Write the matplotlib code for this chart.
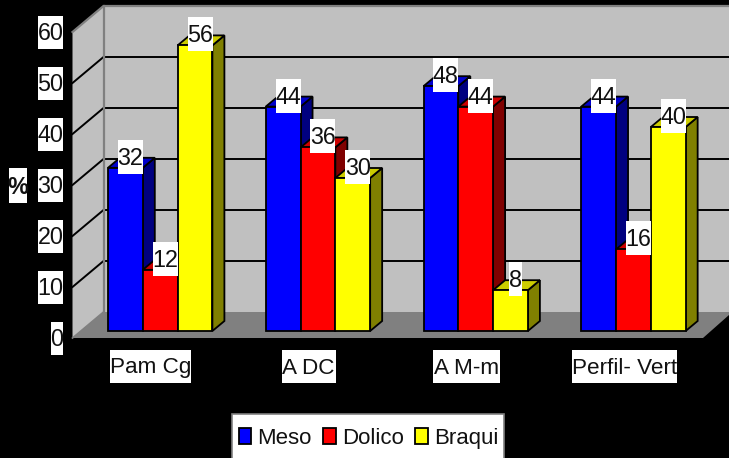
import matplotlib
matplotlib.use("Agg")
import matplotlib.pyplot as plt
from matplotlib.patches import Polygon, Rectangle

plt.rcParams['font.family'] = ['Liberation Sans', 'DejaVu Sans']

categories = ["Pam Cg", "A DC", "A M-m", "Perfil- Vert"]
meso = [32, 44, 48, 44]
dolico = [12, 36, 44, 16]
braqui = [56, 30, 8, 40]
y_ticks = [0, 10, 20, 30, 40, 50, 60]

series = [("Meso", meso, "#0000ff", "#000080", "#0000cc"),
          ("Dolico", dolico, "#ff0000", "#800000", "#cc0000"),
          ("Braqui", braqui, "#ffff00", "#808000", "#cccc00")]

W, H = 729, 458
PX_X = 157.75   # px per category
PX_Y = 5.1      # px per value unit
X0, Y0 = 150.9, 331.0  # px of category 0 centre and of value 0 at the bars' front


def dx(px):
    return px / PX_X


def dy(px):
    return px / PX_Y


def fx(px):
    return (px - X0) / PX_X


def fy(px):
    return (Y0 - px) / PX_Y


fig = plt.figure(figsize=(W / 100, H / 100), dpi=100, facecolor="black")
ax = fig.add_axes([0, 0, 1, 1])
ax.set_xlim(fx(0), fx(W))
ax.set_ylim(fy(H), fy(0))
ax.axis("off")

# plane offsets
front0 = dy(-7)          # value 0 on the front plane of the box
wall_dx, wall_dy = dx(31), dy(26)
left = fx(72.5)
right = fx(703)
top = y_ticks[-1]

# floor
ax.add_patch(Polygon([(left, front0), (left + wall_dx, front0 + wall_dy),
                      (fx(729), front0 + wall_dy), (fx(729), fy(315)), (right, front0)],
                     closed=True, fc="#808080", ec="none", zorder=1))
# back wall
ax.add_patch(Rectangle((left + wall_dx, front0 + wall_dy), fx(729) - left - wall_dx, top,
                       fc="#c0c0c0", ec="none", zorder=1))
# left wall
ax.add_patch(Polygon([(left, front0), (left + wall_dx, front0 + wall_dy),
                      (left + wall_dx, front0 + wall_dy + top), (left, front0 + top)],
                     closed=True, fc="#c0c0c0", ec="none", zorder=1))
# grid
for v in y_ticks[1:-1]:
    ax.plot([left, left + wall_dx, fx(729)],
            [front0 + v, front0 + v + wall_dy, front0 + v + wall_dy],
            color="black", lw=1.4, zorder=2, solid_joinstyle="miter")
# wall edges
ax.plot([left, left + wall_dx, fx(729)],
        [front0 + top, front0 + top + wall_dy, front0 + top + wall_dy],
        color="#808080", lw=1.6, zorder=2)
ax.plot([left + wall_dx] * 2, [front0 + wall_dy, front0 + wall_dy + top],
        color="#808080", lw=1.6, zorder=2)
ax.plot([left, left + wall_dx], [front0, front0 + wall_dy], color="#808080", lw=1.2, zorder=2)

# bars
bar_w = dx(34.8)
start = dx(-42.9)
d_x, d_y = dx(12), dy(10)
EC = "black"
LW = 1.3
z = 3
for s, (name, vals, c_front, c_side, c_top) in enumerate(series):
    for i, v in enumerate(vals):
        x = i + start + s * bar_w
        ax.add_patch(Polygon([(x + bar_w, 0), (x + bar_w + d_x, d_y),
                              (x + bar_w + d_x, v + d_y), (x + bar_w, v)],
                             closed=True, fc=c_side, ec=EC, lw=LW, zorder=z))
        ax.add_patch(Polygon([(x, v), (x + d_x, v + d_y), (x + bar_w + d_x, v + d_y), (x + bar_w, v)],
                             closed=True, fc=c_top, ec=EC, lw=LW, zorder=z))
    ax.bar([i + start + s * bar_w for i in range(len(vals))], vals, width=bar_w, align="edge",
           color=c_front, edgecolor=EC, linewidth=LW, zorder=z + 0.1, label=name)
    z += 1

FS = 16.8


def label(xc, yc, txt, wpx, hpx=34, zo=10, fs=FS, **kw):
    ax.add_patch(Rectangle((xc - dx(wpx) / 2, yc - dy(hpx) / 2), dx(wpx), dy(hpx),
                           fc="white", ec="none", zorder=zo))
    ax.text(xc, yc - dy(1.5), txt, ha="center", va="center", fontsize=fs, color="#111111",
            zorder=zo + 1, **kw)


# value labels
for s, (name, vals, *_rest) in enumerate(series):
    for i, v in enumerate(vals):
        xc = i + start + s * bar_w + bar_w / 2 + dx(5)
        label(xc, v + dy(11), str(v), 12.5 * len(str(v)))

# y tick labels
for v in y_ticks:
    w = 12.5 * len(str(v))
    label(fx(63) - dx(w) / 2, front0 + v, str(v), w, hpx=33)

# category labels
cat_w = [81, 54, 67, 105]
for i, (c, w) in enumerate(zip(categories, cat_w)):
    label(i, fy(366.5), c, w, hpx=33, fs=16.2)

# y axis label
label(fx(18), fy(185.5), "%", 18, hpx=35, fontweight="bold")

# legend panel runs off the bottom of the picture
ax.add_patch(Rectangle((fx(231.5), fy(470)), dx(272.5), dy(56), fc="white", ec="#808080",
                       lw=1.2, zorder=15))
leg = ax.legend(loc="upper left", bbox_to_anchor=(238.5 / W, 1 - 428 / H), borderaxespad=0,
                ncol=3, fontsize=16, frameon=False, handlelength=0.58, handleheight=0.72,
                handletextpad=0.28, columnspacing=0.5, borderpad=0, labelspacing=0)
leg.set_zorder(20)
for t in leg.get_texts():
    t.set_color("#111111")

fig.savefig("out.png", dpi=100, facecolor="black")
